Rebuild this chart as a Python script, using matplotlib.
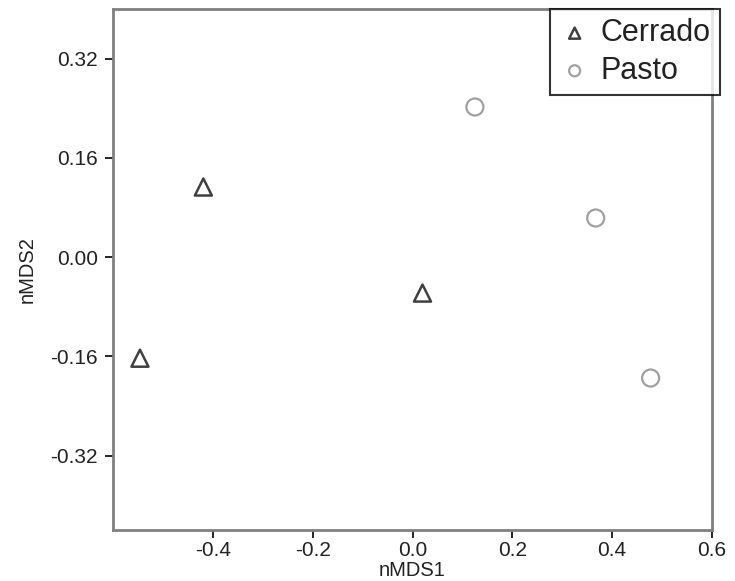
import matplotlib.pyplot as plt
import numpy as np

plt.rcParams['font.family'] = ['Liberation Sans', 'DejaVu Sans']
plt.rcParams['axes.unicode_minus'] = False

# nMDS scores
cerrado_x = [-0.419, -0.546, 0.020]
cerrado_y = [0.113, -0.163, -0.058]
pasto_x = [0.125, 0.367, 0.477]
pasto_y = [0.242, 0.063, -0.195]

xticks = [-0.4, -0.2, 0.0, 0.2, 0.4, 0.6]
yticks = [-0.32, -0.16, 0.0, 0.16, 0.32]


def create_nmds_plot():
    fig = plt.figure(figsize=(7.35, 5.81), dpi=100)
    ax = fig.add_axes([113 / 735, 1 - 530 / 581, 599 / 735, 521 / 581])

    ax.scatter(cerrado_x, cerrado_y, marker='^', s=150, facecolors='none',
               edgecolors='#404040', linewidths=1.8, label='Cerrado', zorder=3)
    ax.scatter(pasto_x, pasto_y, marker='o', s=150, facecolors='none',
               edgecolors='#a0a0a0', linewidths=1.6, label='Pasto', zorder=3)

    ax.set_xlim(-0.6, 0.6)
    ax.set_ylim(-0.44, 0.40)
    ax.set_xticks(xticks)
    ax.set_xticklabels(['%.1f' % v for v in xticks])
    ax.set_yticks(yticks)
    ax.set_yticklabels(['%.2f' % v for v in yticks])

    for s in ax.spines.values():
        s.set_color('#808080')
        s.set_linewidth(2)
    ax.tick_params(direction='out', length=6, width=1.2, color='black',
                   labelsize=15, labelcolor='#222222')
    ax.tick_params(axis='x', pad=2)
    ax.tick_params(axis='y', pad=5)

    ax.set_xlabel('nMDS1', fontsize=14.5, labelpad=1, color='#222222')
    ax.set_ylabel('nMDS2', fontsize=14.5, labelpad=10, color='#222222')

    leg = ax.legend(loc='upper right', bbox_to_anchor=(1.013, 1.0), fontsize=22,
                    frameon=True, fancybox=False, borderpad=0.3,
                    handletextpad=0.35, handlelength=1.0, labelspacing=0.25,
                    markerscale=0.65, borderaxespad=0)
    leg.get_frame().set_edgecolor('black')
    leg.get_frame().set_linewidth(1.5)
    leg.set_zorder(5)
    for t in leg.get_texts():
        t.set_color('#222222')

    plt.savefig('out.png', dpi=100)


if __name__ == "__main__":
    create_nmds_plot()
